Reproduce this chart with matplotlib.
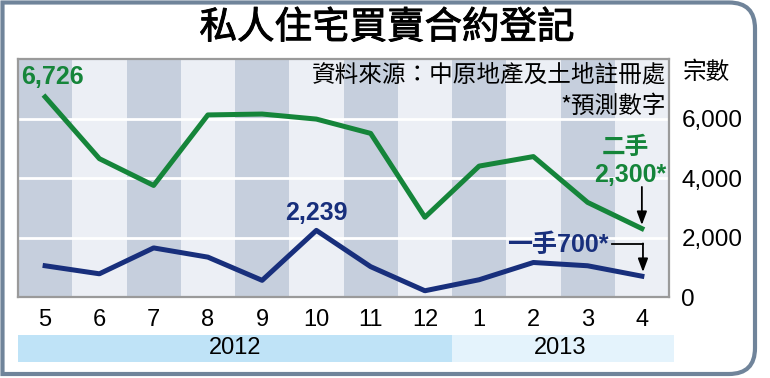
import matplotlib
matplotlib.use("Agg")
import matplotlib.pyplot as plt
import matplotlib.patheffects as pe
from matplotlib.path import Path
from matplotlib.patches import PathPatch

plt.rcParams['font.family'] = ['Liberation Sans', 'Noto Sans CJK TC', 'DejaVu Sans']

# data
months = ['5', '6', '7', '8', '9', '10', '11', '12', '1', '2', '3', '4']
years = ['2012', '2013']
year_months = [8, 4]
second_hand = [6726, 4650, 3750, 6120, 6150, 5980, 5500, 2680, 4400, 4720, 3180, 2300]
first_hand = [1050, 780, 1650, 1340, 560, 2239, 1020, 210, 580, 1160, 1050, 700]
yticks = [0, 2000, 4000, 6000]

green = '#15853a'
navy = '#182f7c'
dark_col = '#c6cfdd'
light_col = '#eceff5'

W, H = 770, 378
fig = plt.figure(figsize=(W / 100, H / 100), dpi=100)

# frame with rounded right corners
r = 26
x0, y0, x1, y1 = 2.5, 2.5, 755, 374
verts = [(x0, H - y0), (x1 - r, H - y0), (x1, H - y0), (x1, H - y0 - r),
         (x1, H - y1 + r), (x1, H - y1), (x1 - r, H - y1), (x0, H - y1), (x0, H - y0)]
codes = [Path.MOVETO, Path.LINETO, Path.CURVE3, Path.CURVE3, Path.LINETO,
         Path.CURVE3, Path.CURVE3, Path.LINETO, Path.CLOSEPOLY]
verts = [(vx / W, vy / H) for vx, vy in verts]
fig.patches.append(PathPatch(Path(verts, codes), transform=fig.transFigure,
                             facecolor='none', edgecolor='#70849a', lw=3, zorder=-1))

fig.text(387 / W, 1 - 28 / H, '私人住宅買賣合約登記', ha='center', va='center',
         fontsize=27, family=['Noto Sans CJK TC'],
         path_effects=[pe.withStroke(linewidth=0.7, foreground='black')])

ax = fig.add_axes([18 / W, 1 - 297 / H, 651 / W, 238 / H])
x = list(range(len(months)))
for i in x:
    ax.axvspan(i - 0.5, i + 0.5, color=dark_col if i % 2 == 0 else light_col, lw=0, zorder=0)
for t in yticks[1:]:
    ax.axhline(t, color='white', lw=2, zorder=1)

ax.plot(x, second_hand, color=green, lw=3.6, zorder=3)
ax.plot(x, first_hand, color=navy, lw=3.6, zorder=3)

ax.set_xlim(-0.5, 11.5)
ax.set_ylim(0, 8000)
ax.set_xticks(x)
ax.set_xticklabels(months, fontsize=17)
ax.set_yticks(yticks)
ax.set_yticklabels([f'{t:,}' for t in yticks], fontsize=17.5)
ax.yaxis.tick_right()
ax.tick_params(length=0)
ax.tick_params(axis='x', pad=9)
ax.tick_params(axis='y', pad=9)
for s in ax.spines.values():
    s.set_color('#9a9a9a')
    s.set_linewidth(1.6)

bold = dict(weight='bold', family=['Liberation Sans Narrow', 'Liberation Sans', 'Noto Sans CJK TC'])
ax.text(-0.45, second_hand[0] + 670, f'{second_hand[0]:,}', color=green, fontsize=18,
        ha='left', va='center', **bold)
ax.text(5, first_hand[5] + 600, f'{first_hand[5]:,}', color=navy, fontsize=18,
        ha='center', va='center', **bold)
ax.text(10.69, 5040, '二手', color=green, fontsize=17,
        ha='center', va='center', weight='bold', family=['Noto Sans CJK TC'])
ax.text(11.45, 4100, f'{second_hand[-1]:,}*', color=green, fontsize=18,
        ha='right', va='center', **bold)
ax.text(10.38, 1750, f'一手{first_hand[-1]}*', color=navy, fontsize=18,
        ha='right', va='center', **bold)
arrow = dict(arrowstyle='-|>,head_width=0.3,head_length=0.8', color='black', lw=1.3,
             shrinkA=0, shrinkB=0)
ax.annotate('', xy=(11, 2420), xytext=(11, 3700), arrowprops=arrow)
ax.plot([10.45, 11.02], [1780, 1780], color='black', lw=1.3)
ax.annotate('', xy=(11.02, 840), xytext=(11.02, 1800), arrowprops=arrow)

ax.text(11.45, 7450, '資料來源：中原地產及土地註冊處', fontsize=17, ha='right', va='center',
        family=['Noto Sans CJK TC'])
ax.text(11.45, 6400, '*預測數字', fontsize=17, ha='right', va='center',
        family=['Noto Sans CJK TC'])
fig.text(683 / W, 1 - 72 / H, '宗數', fontsize=17, ha='left', va='center',
         family=['Noto Sans CJK TC'])

# year band
bx = fig.add_axes([18 / W, 1 - 362 / H, 651 / W, 27 / H])
bx.set_xlim(-0.5, 11.5)
bx.set_ylim(0, 1)
start = -0.5
band_cols = ['#bfe3f7', '#e4f3fc']
for yr, n, c in zip(years, year_months, band_cols):
    bx.axvspan(start, start + n + (0.1 if yr == years[-1] else 0), color=c, lw=0)
    bx.text(start + n / 2, 0.5, yr, ha='center', va='center', fontsize=17)
    start += n
bx.axis('off')
for p in bx.patches:
    p.set_clip_on(False)

fig.savefig('out.png', dpi=100)
